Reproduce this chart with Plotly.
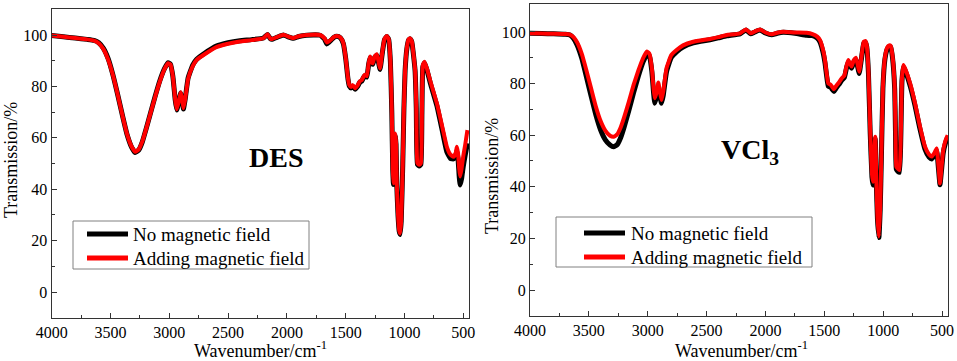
import plotly.graph_objects as go

# ---------------- data ----------------
wn_des = [4000, 3900, 3800, 3700, 3640, 3600, 3560, 3520, 3480, 3440, 3400, 3360, 3320, 3290,
          3260, 3230, 3200, 3160, 3120, 3080, 3040, 3010, 2990, 2970, 2950, 2937, 2920, 2903,
          2890, 2880, 2865, 2840, 2800, 2767, 2700, 2600, 2500, 2400, 2300, 2200, 2166, 2140,
          2129, 2080, 2030, 1990, 1945, 1900, 1831, 1718, 1680, 1661, 1640, 1600, 1576, 1545,
          1520, 1500, 1480, 1469, 1455, 1440, 1420, 1400, 1380, 1363, 1340, 1321, 1305, 1293,
          1280, 1270, 1255, 1236, 1220, 1208, 1190, 1170, 1151, 1135, 1120, 1108, 1100, 1094,
          1085, 1078, 1072, 1066, 1055, 1045, 1037, 1028, 1015, 1005, 995, 980, 965, 952,
          938, 925, 910, 900, 890, 875, 861, 852, 844, 830, 810, 780, 725, 680,
          640, 610, 584, 565, 555, 545, 535, 527, 515, 500, 485, 465]
des_mag = [99.8, 99.3, 98.8, 98.3, 97.8, 96.8, 94.5, 90.5, 84.5, 77.0, 69.0, 61.5, 56.5, 54.6,
           55.5, 58.5, 63.0, 69.5, 76.0, 82.0, 86.8, 89.0, 88.5, 84.0, 75.0, 71.1, 74.0, 77.7,
           75.0, 71.5, 75.0, 83.0, 88.0, 90.3, 92.5, 95.3, 96.6, 97.5, 98.0, 98.7, 100.3, 98.6,
           98.4, 99.3, 100.1, 99.4, 98.8, 99.5, 100.0, 100.0, 98.7, 97.1, 97.6, 99.2, 99.6, 99.0,
           96.8, 91.0, 83.0, 80.5, 79.8, 80.5, 79.3, 80.3, 82.0, 82.5, 84.5, 84.0, 89.0, 91.6,
           89.5, 89.0, 91.5, 92.5, 89.5, 87.0, 93.0, 98.5, 99.6, 98.5, 90.0, 70.0, 48.0, 42.3,
           46.0, 61.7, 58.0, 42.3, 30.0, 24.0, 22.8, 28.0, 50.0, 72.0, 86.4, 95.0, 98.3, 98.7,
           97.5, 93.0, 86.4, 72.0, 50.1, 49.5, 50.1, 70.0, 88.3, 89.6, 87.0, 82.0, 73.4, 64.5,
           56.5, 53.5, 52.6, 54.0, 56.5, 54.0, 48.0, 44.9, 48.0, 53.0, 57.0, 63.0]
des_no = [99.8, 99.3, 98.8, 98.3, 97.9, 97.0, 94.8, 90.8, 84.6, 77.0, 69.0, 61.4, 56.3, 54.3,
          55.2, 58.3, 63.0, 69.6, 76.2, 82.3, 87.0, 89.2, 88.6, 84.0, 74.8, 70.8, 73.8, 77.4,
          74.8, 71.2, 75.0, 83.3, 88.4, 90.6, 92.9, 95.7, 97.0, 97.8, 98.2, 98.8, 100.2, 98.5,
          98.3, 99.2, 100.0, 99.3, 98.7, 99.4, 99.9, 99.9, 98.4, 96.5, 97.3, 99.1, 99.5, 98.9,
          96.6, 90.8, 82.6, 80.1, 79.4, 80.1, 78.9, 79.9, 81.6, 82.1, 84.1, 83.6, 88.6, 91.2,
          89.1, 88.6, 91.1, 92.1, 89.1, 86.6, 92.6, 98.2, 99.4, 98.3, 89.6, 69.5, 47.5, 41.8,
          45.5, 61.0, 57.4, 41.8, 29.6, 23.6, 22.4, 27.6, 49.5, 71.5, 86.0, 94.7, 98.0, 98.5,
          97.3, 92.7, 86.0, 71.6, 49.6, 49.0, 49.6, 69.5, 87.6, 89.2, 86.5, 81.2, 72.5, 63.0,
          54.5, 52.0, 51.8, 52.8, 55.0, 52.0, 45.0, 41.6, 44.0, 49.0, 53.0, 57.9]

wn_vcl = [4000, 3900, 3800, 3700, 3660, 3630, 3600, 3560, 3520, 3480, 3440, 3400, 3360, 3320,
          3290, 3260, 3230, 3200, 3160, 3120, 3080, 3040, 3006, 2985, 2965, 2950, 2940, 2925,
          2910, 2897, 2883, 2868, 2840, 2800, 2755, 2700, 2613, 2471, 2400, 2330, 2216, 2165,
          2126, 2090, 2046, 2000, 1947, 1900, 1848, 1750, 1650, 1600, 1560, 1537, 1510, 1494,
          1480, 1466, 1445, 1430, 1418, 1400, 1375, 1353, 1330, 1310, 1296, 1280, 1268, 1250,
          1231, 1215, 1203, 1185, 1165, 1150, 1140, 1125, 1110, 1095, 1087, 1078, 1067, 1062,
          1058, 1048, 1036, 1025, 1015, 1002, 985, 965, 950, 936, 920, 902, 895, 888,
          875, 861, 850, 840, 828, 810, 770, 729, 690, 644, 610, 587, 560, 545,
          530, 517, 505, 490, 470, 452]
vcl_mag = [99.5, 99.4, 99.3, 99.2, 99.0, 98.0, 96.0, 91.5, 85.0, 78.0, 71.0, 65.5, 61.8, 59.8,
           59.4, 60.3, 63.0, 67.0, 73.0, 79.5, 85.0, 89.8, 92.4, 91.5, 86.0, 78.0, 74.3, 76.5,
           80.4, 77.0, 73.6, 77.0, 86.0, 91.0, 93.0, 94.8, 96.2, 97.3, 98.0, 98.8, 99.5, 101.0,
           99.5, 100.2, 101.0, 99.8, 99.1, 99.7, 100.1, 99.8, 99.7, 99.2, 98.2, 96.9, 93.0, 89.1,
           84.0, 80.1, 79.5, 78.5, 77.8, 79.0, 80.5, 82.0, 83.0, 87.0, 89.1, 87.5, 86.6, 89.0,
           90.0, 87.0, 84.6, 90.0, 96.2, 96.5, 95.0, 85.0, 62.0, 45.0, 42.0, 50.0, 59.4, 52.0,
           42.6, 28.0, 20.7, 32.0, 52.0, 78.8, 90.0, 94.0, 94.8, 94.6, 90.5, 78.8, 62.0, 47.8,
           47.0, 46.5, 60.0, 82.0, 87.2, 85.5, 80.0, 72.4, 64.0, 55.5, 52.5, 51.7, 53.5, 54.9,
           48.0, 41.3, 47.0, 54.0, 58.0, 60.0]
vcl_no = [99.5, 99.4, 99.3, 99.1, 98.8, 97.5, 95.0, 89.8, 82.5, 75.0, 67.8, 62.0, 58.2, 56.2,
          55.5, 56.3, 59.0, 63.2, 69.6, 76.5, 82.8, 88.3, 91.5, 90.6, 84.8, 76.3, 72.4, 74.8,
          78.0, 75.3, 72.4, 75.4, 84.6, 90.1, 92.3, 94.2, 95.8, 97.0, 97.7, 98.5, 99.3, 100.8,
          99.3, 100.0, 100.8, 99.6, 98.9, 99.5, 99.9, 99.5, 98.7, 98.6, 97.6, 96.2, 92.0, 88.0,
          83.0, 79.0, 78.6, 77.6, 76.9, 78.2, 79.7, 81.2, 82.3, 86.3, 88.4, 86.8, 85.9, 88.3,
          89.4, 86.3, 83.9, 89.4, 95.6, 96.0, 94.4, 84.2, 61.0, 43.8, 40.7, 49.0, 58.6, 51.0,
          41.6, 27.3, 20.3, 31.0, 51.0, 78.0, 89.4, 93.4, 94.3, 94.1, 89.8, 78.0, 61.0, 46.8,
          46.0, 45.6, 59.0, 81.0, 86.5, 84.7, 79.0, 71.4, 63.0, 54.5, 51.5, 50.8, 52.6, 54.0,
          47.0, 40.8, 46.0, 53.0, 57.0, 59.3]

series_names = ["No magnetic field", "Adding magnetic field"]
series_colors = ["#000000", "#ff0000"]
panel_labels = ["<b>DES</b>", "<b>VCl<sub>3</sub></b>"]
x_major = [4000, 3500, 3000, 2500, 2000, 1500, 1000, 500]
x_minor = [3750, 3250, 2750, 2250, 1750, 1250, 750]
y_major = [0, 20, 40, 60, 80, 100]
y_minor = [10, 30, 50, 70, 90]
x_title = "Wavenumber/cm<sup>-1</sup>"
y_title = "Transmission/%"

# ---------------- figure ----------------
W, H = 957, 361
FONT = "Liberation Serif, Times New Roman, serif"

def px(x):
    return x / W

def py(y):
    return 1 - y / H

fig = go.Figure()
panels = [
    (wn_des, des_no, des_mag, "x", "y"),
    (wn_vcl, vcl_no, vcl_mag, "x2", "y2"),
]
for wn, t_no, t_mag, xa, ya in panels:
    for vals, name, col, w in [(t_no, series_names[0], series_colors[0], 5),
                               (t_mag, series_names[1], series_colors[1], 4)]:
        fig.add_trace(go.Scatter(x=wn, y=vals, mode="lines", name=name, showlegend=False,
                                 line=dict(color=col, width=w, shape="spline", smoothing=0.4),
                                 xaxis=xa, yaxis=ya))

def xaxis(domain, rng, anchor):
    return dict(domain=domain, range=rng, anchor=anchor, tickmode="array", tickvals=x_major,
                ticks="inside", ticklen=5, tickwidth=1, tickcolor="#333",
                minor=dict(tickmode="array", tickvals=x_minor, ticks="inside", ticklen=3,
                           tickwidth=1, tickcolor="#333"),
                showline=True, linecolor="#333", linewidth=1.3, mirror=True,
                showgrid=False, zeroline=False, automargin=False,
                tickfont=dict(family=FONT, size=16, color="black"))

def yaxis(domain, rng, anchor):
    return dict(domain=domain, range=rng, anchor=anchor, tickmode="array", tickvals=y_major,
                ticks="inside", ticklen=5, tickwidth=1, tickcolor="#333",
                minor=dict(tickmode="array", tickvals=y_minor, ticks="inside", ticklen=3,
                           tickwidth=1, tickcolor="#333"),
                showline=True, linecolor="#333", linewidth=1.3, mirror=True,
                showgrid=False, zeroline=False, automargin=False,
                tickfont=dict(family=FONT, size=16, color="black"))

fig.update_layout(
    width=W, height=H, margin=dict(l=0, r=0, t=0, b=0, autoexpand=False),
    paper_bgcolor="white", plot_bgcolor="white",
    xaxis=xaxis([px(51.7), px(469.2)], [4000, 450], "y"),
    yaxis=yaxis([py(317.7), py(9.3)], [-10, 110], "x"),
    xaxis2=xaxis([px(530), px(948)], [4000, 449], "y2"),
    yaxis2=yaxis([py(315.8), py(3.6)], [-10, 111], "x2"),
    showlegend=False,
)

# legend boxes (box, sample line x-span, row y positions, text x)
legend_layout = [
    dict(box=(73, 221, 309, 269), line=(87, 128), rows=(234, 258), text_x=131),
    dict(box=(556, 217, 812, 267), line=(584, 625), rows=(233, 257), text_x=629),
]
for lg in legend_layout:
    x0, y0, x1, y1 = lg["box"]
    fig.add_shape(type="rect", xref="paper", yref="paper",
                  x0=px(x0), x1=px(x1), y0=py(y1), y1=py(y0),
                  line=dict(color="#808080", width=1), fillcolor="rgba(0,0,0,0)")
    for row_y, name, col in zip(lg["rows"], series_names, series_colors):
        fig.add_shape(type="line", xref="paper", yref="paper",
                      x0=px(lg["line"][0]), x1=px(lg["line"][1]), y0=py(row_y), y1=py(row_y),
                      line=dict(color=col, width=5))
        fig.add_annotation(xref="paper", yref="paper", showarrow=False, text=name,
                           x=px(lg["text_x"]), y=py(row_y), xanchor="left", yanchor="middle",
                           font=dict(family=FONT, size=19, color="black"))

annots = [
    dict(text=panel_labels[0], x=px(276), y=py(157), font=dict(size=28)),
    dict(text=panel_labels[1], x=px(750), y=py(151), font=dict(size=28)),
    dict(text=x_title, x=px(260), y=py(349), font=dict(size=18)),
    dict(text=x_title, x=px(741), y=py(349), font=dict(size=18)),
    dict(text=y_title, x=px(11), y=py(160), font=dict(size=18), textangle=-90),
    dict(text=y_title, x=px(492), y=py(176), font=dict(size=18), textangle=-90),
]
for a in annots:
    a["font"].update(family=FONT, color="black")
    fig.add_annotation(xref="paper", yref="paper", showarrow=False,
                       xanchor="center", yanchor="middle", **a)

fig.write_html("out.html", config={"displayModeBar": False},
               post_script="document.body.style.margin='0px';document.body.style.overflow='hidden';")
